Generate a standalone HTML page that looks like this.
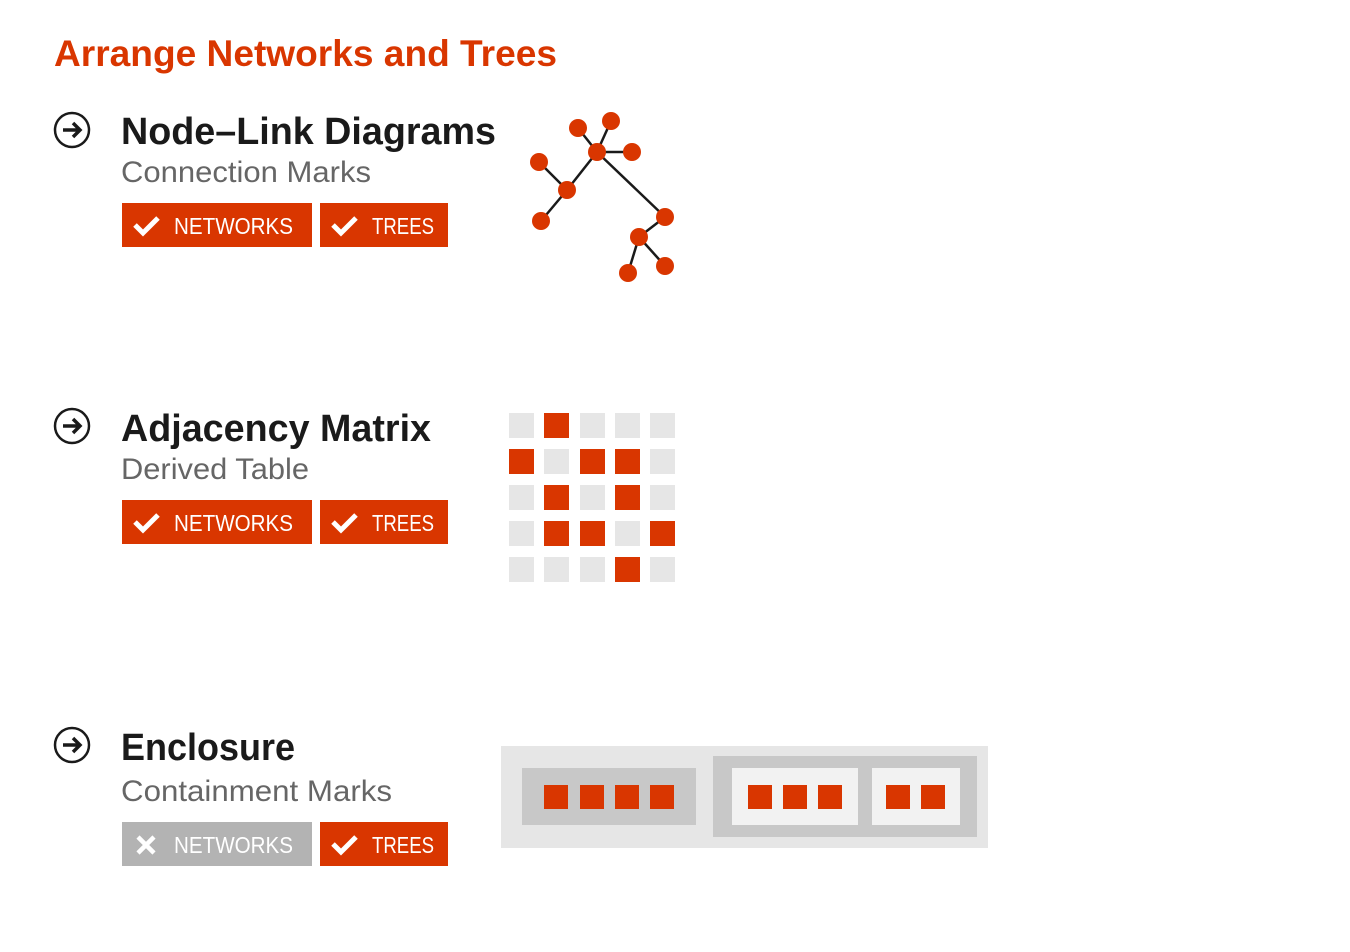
<!DOCTYPE html>
<html><head><meta charset="utf-8"><style>html,body{margin:0;padding:0;background:#fff}</style></head>
<body>
<svg width="1350" height="947" viewBox="0 0 1350 947" xmlns="http://www.w3.org/2000/svg" font-family="Liberation Sans, sans-serif">
<defs>
<g id="arrow"><circle cx="0" cy="0" r="17" fill="none" stroke="#1a1a1a" stroke-width="2.5"/><path d="M-9 0H7M1-7L8 0L1 7" fill="none" stroke="#1a1a1a" stroke-width="3.5"/></g>
<path id="chk" d="M-12 0L-4 8L11-7" fill="none" stroke="#fff" stroke-width="5"/>
</defs>
<text x="54" y="66" font-size="37" font-weight="bold" fill="#d93600" textLength="503" lengthAdjust="spacingAndGlyphs">Arrange Networks and Trees</text>

<!-- Section 1 -->
<use href="#arrow" x="72" y="130"/>
<text x="121" y="144" font-size="38" font-weight="bold" fill="#1a1a1a" textLength="375" lengthAdjust="spacingAndGlyphs">Node–Link Diagrams</text>
<text x="121" y="182" font-size="30" fill="#666" textLength="250" lengthAdjust="spacingAndGlyphs">Connection Marks</text>
<rect x="122" y="203" width="190" height="44" fill="#d93600"/>
<use href="#chk" x="147" y="225"/>
<text x="174" y="234" font-size="23" fill="#fff" textLength="119" lengthAdjust="spacingAndGlyphs">NETWORKS</text>
<rect x="320" y="203" width="128" height="44" fill="#d93600"/>
<use href="#chk" x="345" y="225"/>
<text x="372" y="234" font-size="23" fill="#fff" textLength="62" lengthAdjust="spacingAndGlyphs">TREES</text>

<g stroke="#1a1a1a" stroke-width="2.5">
<line x1="597" y1="152" x2="578" y2="128"/><line x1="597" y1="152" x2="611" y2="121"/><line x1="597" y1="152" x2="632" y2="152"/>
<line x1="597" y1="152" x2="567" y2="190"/><line x1="567" y1="190" x2="539" y2="162"/><line x1="567" y1="190" x2="541" y2="221"/>
<line x1="597" y1="152" x2="665" y2="217"/><line x1="665" y1="217" x2="639" y2="237"/><line x1="639" y1="237" x2="628" y2="273"/><line x1="639" y1="237" x2="665" y2="266"/>
</g>
<g fill="#d93600">
<circle cx="578" cy="128" r="9"/><circle cx="611" cy="121" r="9"/><circle cx="597" cy="152" r="9"/><circle cx="632" cy="152" r="9"/>
<circle cx="539" cy="162" r="9"/><circle cx="567" cy="190" r="9"/><circle cx="541" cy="221" r="9"/><circle cx="665" cy="217" r="9"/>
<circle cx="639" cy="237" r="9"/><circle cx="628" cy="273" r="9"/><circle cx="665" cy="266" r="9"/>
</g>

<!-- Section 2 -->
<use href="#arrow" x="72" y="426"/>
<text x="121" y="441" font-size="38" font-weight="bold" fill="#1a1a1a" textLength="310" lengthAdjust="spacingAndGlyphs">Adjacency Matrix</text>
<text x="121" y="479" font-size="30" fill="#666" textLength="188" lengthAdjust="spacingAndGlyphs">Derived Table</text>
<rect x="122" y="500" width="190" height="44" fill="#d93600"/>
<use href="#chk" x="147" y="522"/>
<text x="174" y="531" font-size="23" fill="#fff" textLength="119" lengthAdjust="spacingAndGlyphs">NETWORKS</text>
<rect x="320" y="500" width="128" height="44" fill="#d93600"/>
<use href="#chk" x="345" y="522"/>
<text x="372" y="531" font-size="23" fill="#fff" textLength="62" lengthAdjust="spacingAndGlyphs">TREES</text>

<g fill="#e6e6e6">
<rect x="509" y="413" width="25" height="25"/><rect x="580" y="413" width="25" height="25"/><rect x="615" y="413" width="25" height="25"/><rect x="650" y="413" width="25" height="25"/>
<rect x="544" y="449" width="25" height="25"/><rect x="650" y="449" width="25" height="25"/>
<rect x="509" y="485" width="25" height="25"/><rect x="580" y="485" width="25" height="25"/><rect x="650" y="485" width="25" height="25"/>
<rect x="509" y="521" width="25" height="25"/><rect x="615" y="521" width="25" height="25"/>
<rect x="509" y="557" width="25" height="25"/><rect x="544" y="557" width="25" height="25"/><rect x="580" y="557" width="25" height="25"/><rect x="650" y="557" width="25" height="25"/>
</g>
<g fill="#d93600">
<rect x="544" y="413" width="25" height="25"/>
<rect x="509" y="449" width="25" height="25"/><rect x="580" y="449" width="25" height="25"/><rect x="615" y="449" width="25" height="25"/>
<rect x="544" y="485" width="25" height="25"/><rect x="615" y="485" width="25" height="25"/>
<rect x="544" y="521" width="25" height="25"/><rect x="580" y="521" width="25" height="25"/><rect x="650" y="521" width="25" height="25"/>
<rect x="615" y="557" width="25" height="25"/>
</g>

<!-- Section 3 -->
<use href="#arrow" x="72" y="745"/>
<text x="121" y="760" font-size="38" font-weight="bold" fill="#1a1a1a" textLength="174" lengthAdjust="spacingAndGlyphs">Enclosure</text>
<text x="121" y="801" font-size="30" fill="#666" textLength="271" lengthAdjust="spacingAndGlyphs">Containment Marks</text>
<rect x="122" y="822" width="190" height="44" fill="#b3b3b3"/>
<path d="M-8-8L8 8M8-8L-8 8" transform="translate(146 845)" stroke="#fff" stroke-width="4.5"/>
<text x="174" y="853" font-size="23" fill="#fff" textLength="119" lengthAdjust="spacingAndGlyphs">NETWORKS</text>
<rect x="320" y="822" width="128" height="44" fill="#d93600"/>
<use href="#chk" x="345" y="844"/>
<text x="372" y="853" font-size="23" fill="#fff" textLength="62" lengthAdjust="spacingAndGlyphs">TREES</text>

<rect x="501" y="746" width="487" height="102" fill="#e6e6e6"/>
<rect x="522" y="768" width="174" height="57" fill="#c8c8c8"/>
<rect x="713" y="756" width="264" height="81" fill="#c8c8c8"/>
<rect x="732" y="768" width="126" height="57" fill="#f2f2f2"/>
<rect x="872" y="768" width="88" height="57" fill="#f2f2f2"/>
<g fill="#d93600">
<rect x="544" y="785" width="24" height="24"/><rect x="580" y="785" width="24" height="24"/><rect x="615" y="785" width="24" height="24"/><rect x="650" y="785" width="24" height="24"/>
<rect x="748" y="785" width="24" height="24"/><rect x="783" y="785" width="24" height="24"/><rect x="818" y="785" width="24" height="24"/>
<rect x="886" y="785" width="24" height="24"/><rect x="921" y="785" width="24" height="24"/>
</g>
</svg>
</body></html>
